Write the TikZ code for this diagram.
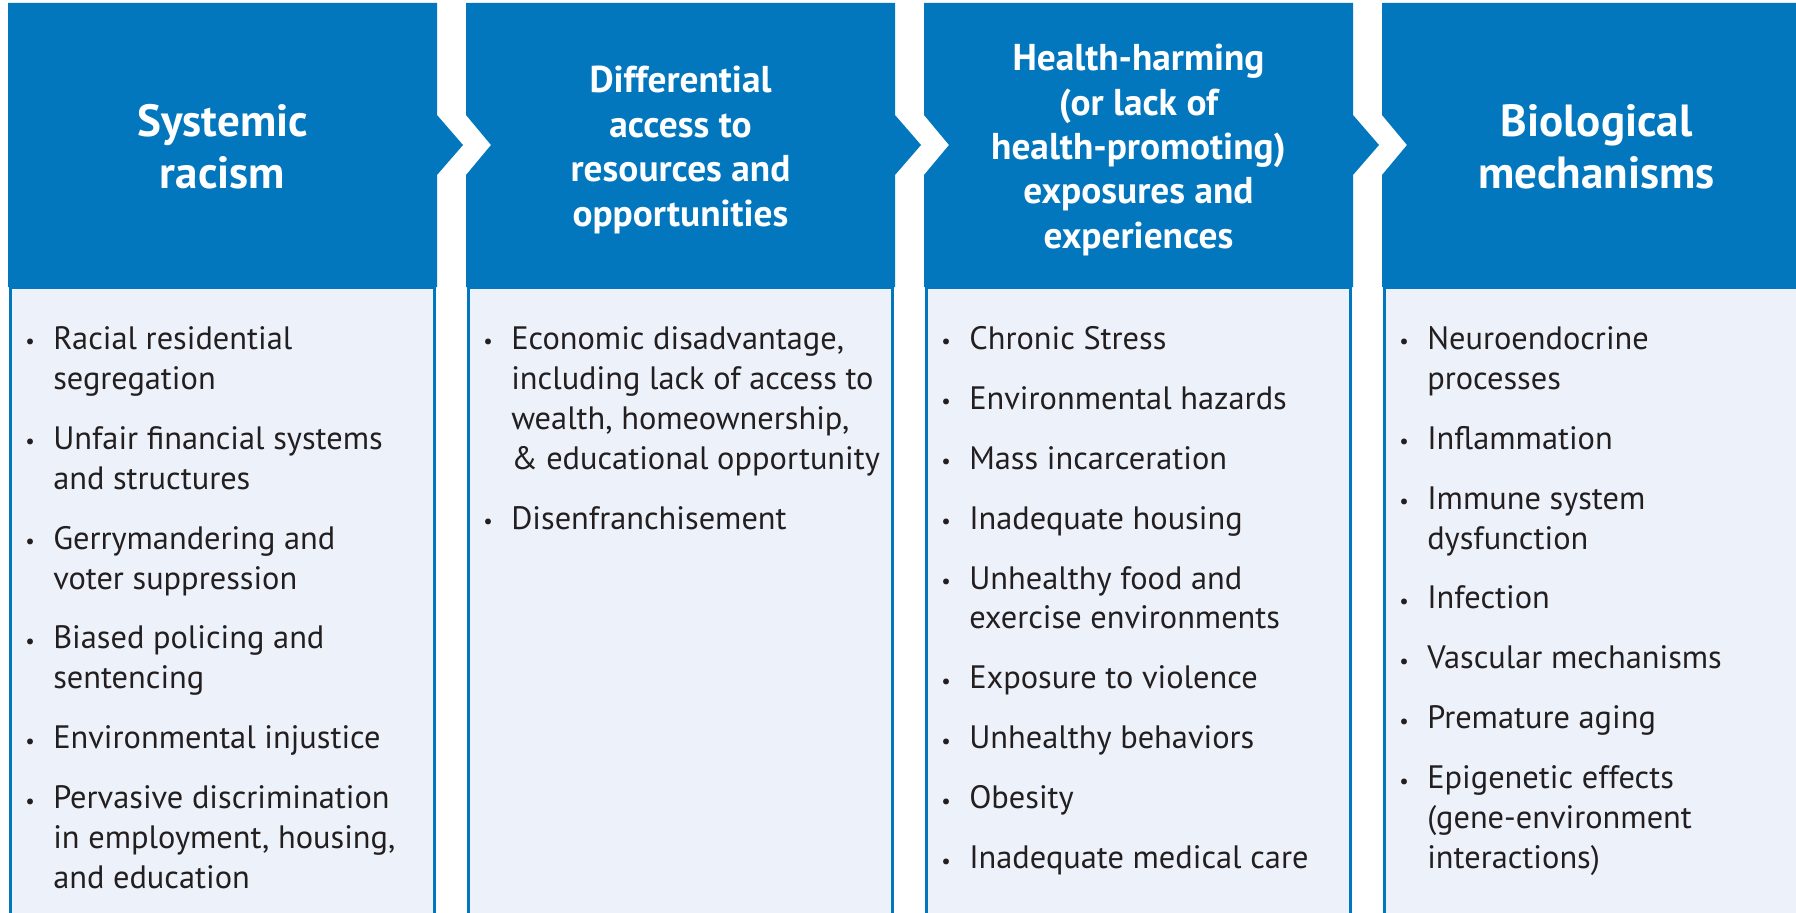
\documentclass[tikz,border=0pt]{standalone}
\usepackage{fontspec}
\setmainfont{PT Sans}
\usepackage{graphicx}
\definecolor{hblue}{HTML}{0277BE}
\definecolor{bfill}{HTML}{EDF2FA}
\definecolor{btext}{HTML}{231F20}
\newlength\bind
\setlength\bind{21pt}
\newcommand\bitem[1]{\par\noindent\hangindent=\bind\hangafter=1%
  \makebox[\bind][l]{\raisebox{0.6pt}{\scalebox{0.65}{\textbullet}}}#1\par\vskip15pt}
\newcommand\colbody[1]{\parbox[t]{310pt}{\fontsize{24.3pt}{30pt}\selectfont\parskip=0pt\parindent=0pt #1}}
\tikzset{
  hbox/.style={fill=hblue, draw=none},
  bbox/.style={fill=bfill, draw=hblue, line width=2.25pt},
  hbig/.style={text=white, align=center, inner sep=0pt, font=\bfseries\fontsize{33.8pt}{39pt}\selectfont},
  hsmall/.style={text=white, align=center, inner sep=0pt, font=\bfseries\fontsize{28pt}{33.3pt}\selectfont},
  btxt/.style={anchor=base west, inner sep=0pt, text=btext}
}
\begin{document}
\begin{tikzpicture}[x=0.75pt, y=-0.75pt]
\useasboundingbox (0,0) rectangle (1796,913);
\clip (0,0) rectangle (1796,913);
\fill[white] (0,0) rectangle (1796,913);
% bodies
\draw[bbox] (10.5,287) rectangle (434.5,940);
\draw[bbox] (468.5,287) rectangle (892.5,940);
\draw[bbox] (926.5,287) rectangle (1350.5,940);
\draw[bbox] (1384.5,287) rectangle (1808.5,940);
% headers
\fill[hbox] (8,3) -- (437,3) -- (437,115) -- (463,145) -- (437,175) -- (437,287) -- (8,287) -- cycle;
\fill[hbox] (466,3) -- (895,3) -- (895,115) -- (921,145) -- (895,175) -- (895,287) -- (466,287) -- (466,175) -- (491,145) -- (466,115) -- cycle;
\fill[hbox] (924,3) -- (1353,3) -- (1353,115) -- (1379,145) -- (1353,175) -- (1353,287) -- (924,287) -- (924,175) -- (949,145) -- (924,115) -- cycle;
\fill[hbox] (1382,3) -- (1830,3) -- (1830,287) -- (1382,287) -- (1382,175) -- (1407,145) -- (1382,115) -- cycle;
% header texts
\node[hbig] (h1) at (222.5,146.5) {Systemic\\racism};
\node[hsmall] (h2) at (680.5,150) {Differential\\access to\\resources and\\opportunities};
\node[hsmall] (h3) at (1138.5,150) {Health-harming\\(or lack of\\health-promoting)\\exposures and\\experiences};
\node[hbig] (h4) at (1596.5,146.5) {Biological\\mechanisms};
% body texts
\node[btxt] (b1) at (25,349) {\colbody{%
\bitem{Racial residential\\segregation}
\bitem{Unfair financial systems\\and structures}
\bitem{Gerrymandering and\\voter suppression}
\bitem{Biased policing and\\sentencing}
\bitem{Environmental injustice}
\bitem{Pervasive discrimination\\in employment, housing,\\and education}}};
\node[btxt] (b2) at (483,349) {\colbody{%
\bitem{Economic disadvantage,\\including lack of access to\\wealth, homeownership,\\\&~educational opportunity}
\bitem{Disenfranchisement}}};
\node[btxt] (b3) at (941,349) {\colbody{%
\bitem{Chronic Stress}
\bitem{Environmental hazards}
\bitem{Mass incarceration}
\bitem{Inadequate housing}
\bitem{Unhealthy food and\\exercise environments}
\bitem{Exposure to violence}
\bitem{Unhealthy behaviors}
\bitem{Obesity}
\bitem{Inadequate medical care}}};
\node[btxt] (b4) at (1399,349) {\colbody{%
\bitem{Neuroendocrine\\processes}
\bitem{Inflammation}
\bitem{Immune system\\dysfunction}
\bitem{Infection}
\bitem{Vascular mechanisms}
\bitem{Premature aging}
\bitem{Epigenetic effects\\(gene-environment\\interactions)}}};
\end{tikzpicture}
\end{document}
